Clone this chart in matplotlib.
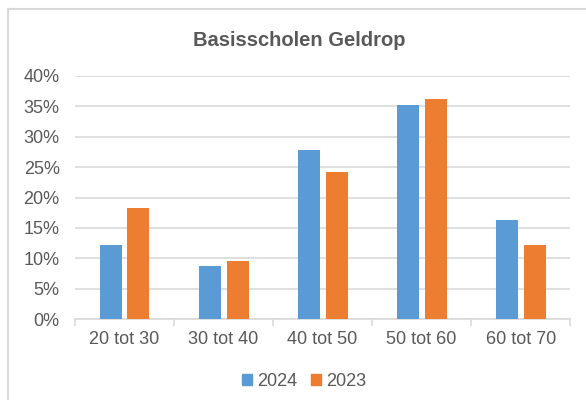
import numpy as np
import matplotlib.pyplot as plt
from matplotlib.lines import Line2D

plt.rcParams['font.family'] = ['Liberation Sans', 'DejaVu Sans']

# ── data ──
categories = ['20 tot 30', '30 tot 40', '40 tot 50', '50 tot 60', '60 tot 70']
values_2024 = [12.2, 8.7, 27.9, 35.2, 16.3]
values_2023 = [18.3, 9.5, 24.2, 36.2, 12.1]
series_names = ['2024', '2023']
y_ticks = [0, 5, 10, 15, 20, 25, 30, 35, 40]

BLUE = '#5B9BD5'
ORANGE = '#ED7D31'
TXT = '#595959'
GRID = '#D9D9D9'

fig = plt.figure(figsize=(5.86, 4.0), dpi=100)
ax = fig.add_axes([0.128, 0.2025, 0.845, 0.6075])

x = np.arange(len(categories))
w = 0.222
off = 0.141
ax.bar(x - off, values_2024, w, color=BLUE, label=series_names[0], zorder=3)
ax.bar(x + off, values_2023, w, color=ORANGE, label=series_names[1], zorder=3)

ax.set_xlim(-0.5, len(categories) - 0.5)
ax.set_ylim(0, 40)
ax.set_yticks(y_ticks)
ax.set_yticklabels([f'{t}%' for t in y_ticks])
ax.yaxis.grid(True, color=GRID, linewidth=1.2, zorder=0)
ax.tick_params(axis='y', length=0, pad=11, labelsize=13, labelcolor=TXT)

# category labels between boundary tick marks
ax.set_xticks(x)
ax.set_xticklabels(categories)
ax.tick_params(axis='x', length=0, pad=9, labelsize=13, labelcolor=TXT)
ax.set_xticks(np.arange(-0.5, len(categories), 1), minor=True)
ax.tick_params(axis='x', which='minor', length=5, color=GRID, width=1.2)

for s in ['top', 'right', 'left']:
    ax.spines[s].set_visible(False)
ax.spines['bottom'].set_color(GRID)
ax.spines['bottom'].set_linewidth(1.2)

fig.text(0.511, 0.9, 'Basisscholen Geldrop', ha='center', va='center',
         fontsize=14.5, fontweight='bold', color=TXT)

handles = [plt.Rectangle((0, 0), 1, 1, color=BLUE), plt.Rectangle((0, 0), 1, 1, color=ORANGE)]
fig.legend(handles, series_names, loc='center', bbox_to_anchor=(0.519, 0.0475), ncol=2,
           frameon=False, fontsize=13, labelcolor=TXT, handlelength=0.55,
           handleheight=0.55, handletextpad=0.25, columnspacing=0.8)

# outer chart frame
fig.add_artist(Line2D([8 / 586, 1.0], [1 - 9 / 400, 1 - 9 / 400], color=GRID, lw=1.5,
                      transform=fig.transFigure))
fig.add_artist(Line2D([8 / 586, 8 / 586], [0, 1 - 9 / 400], color=GRID, lw=1.5,
                      transform=fig.transFigure))

fig.savefig('out.png', dpi=100)
